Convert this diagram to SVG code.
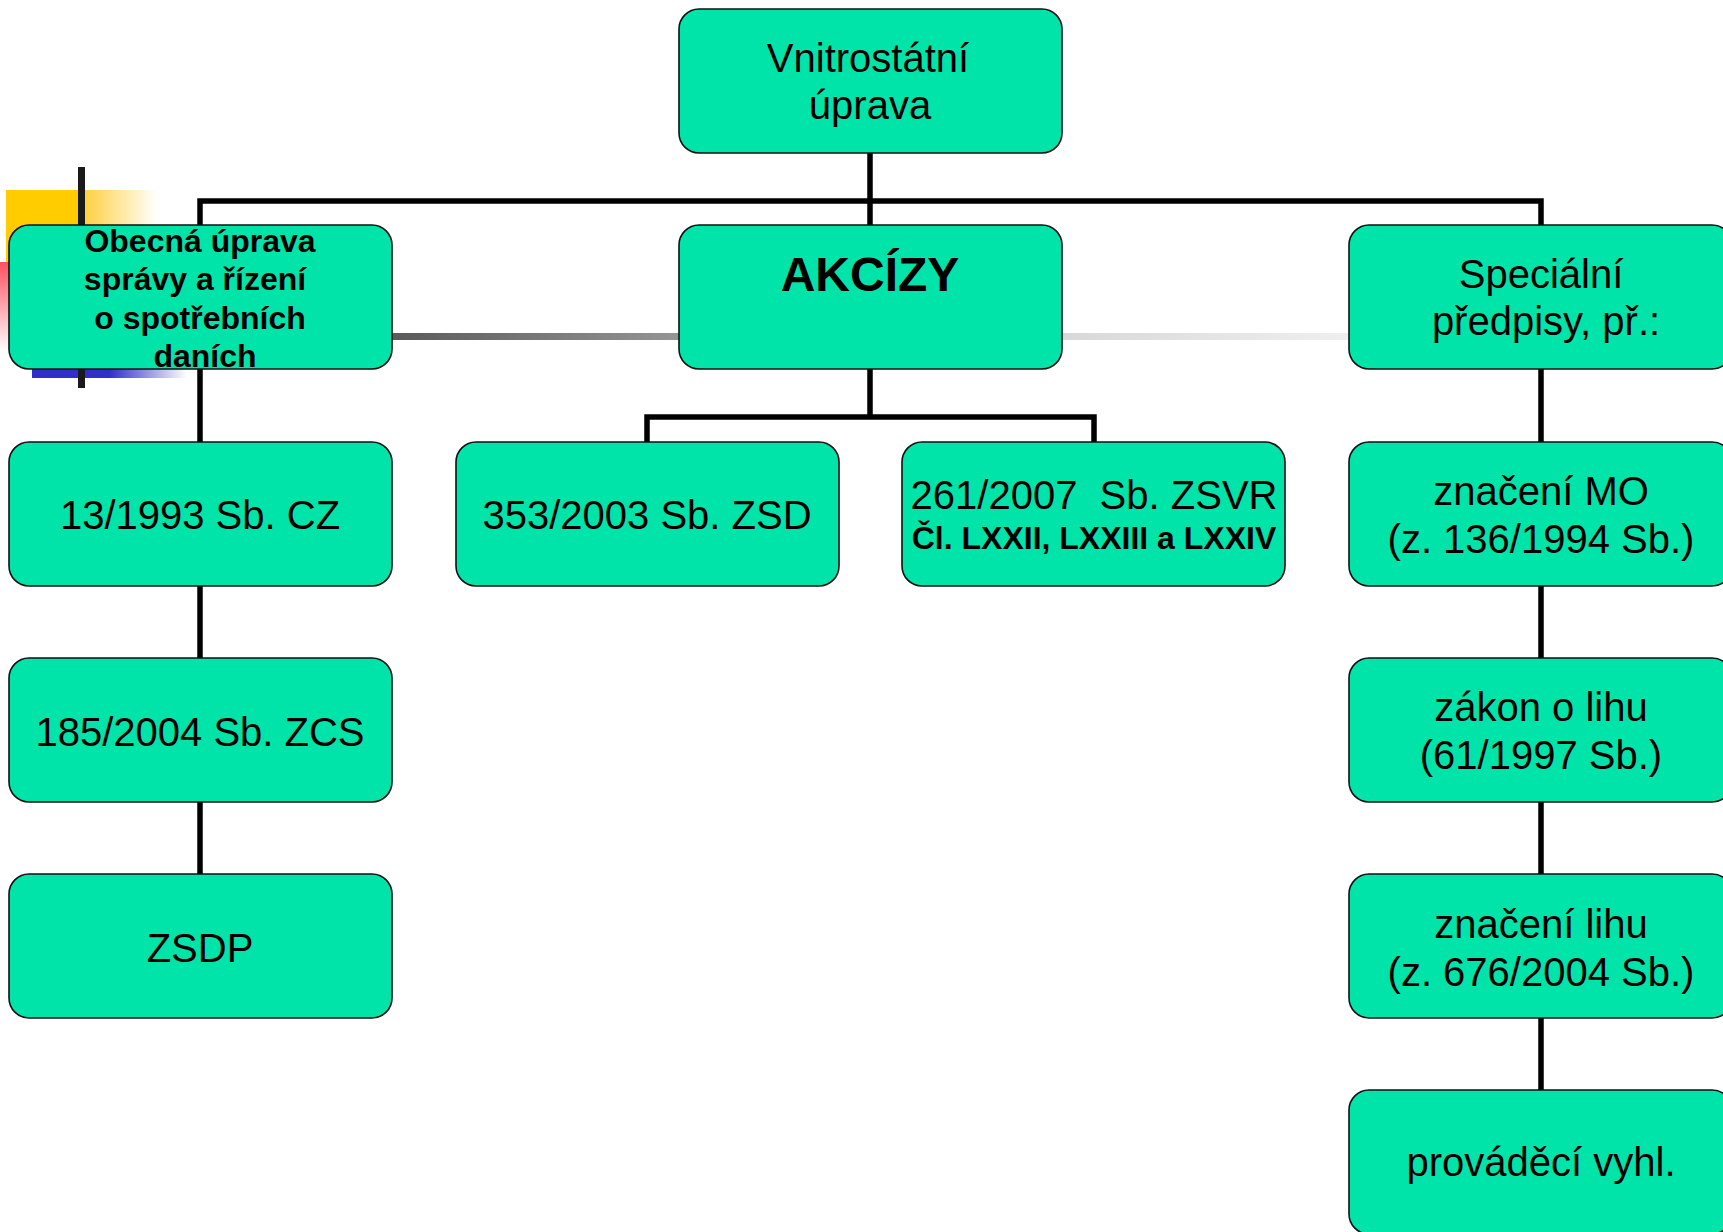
<svg xmlns="http://www.w3.org/2000/svg" width="1723" height="1232" viewBox="0 0 1723 1232">
<style>
.box{fill:#00E4A9;stroke:#111;stroke-width:1.6}
.t{font-family:"Liberation Sans",Arial,sans-serif;font-size:40px;fill:#000;text-anchor:middle}
.b{font-family:"Liberation Sans",Arial,sans-serif;font-weight:bold;font-size:32px;fill:#000;text-anchor:middle}
.c{fill:none;stroke:#000;stroke-width:5.5;stroke-linejoin:miter}
</style>
<defs>
<linearGradient id="gy" x1="6" y1="0" x2="157" y2="0" gradientUnits="userSpaceOnUse">
<stop offset="0" stop-color="#FFCC00"/><stop offset="0.5" stop-color="#FFCC00"/><stop offset="0.52" stop-color="#FFD040"/><stop offset="1" stop-color="#FFFFFF"/>
</linearGradient>
<linearGradient id="gr" x1="0" y1="262" x2="0" y2="352" gradientUnits="userSpaceOnUse">
<stop offset="0" stop-color="#FF5060"/><stop offset="1" stop-color="#FFFFFF"/>
</linearGradient>
<linearGradient id="gb" x1="32" y1="0" x2="187" y2="0" gradientUnits="userSpaceOnUse">
<stop offset="0" stop-color="#3030C8"/><stop offset="0.5" stop-color="#3030C8"/><stop offset="1" stop-color="#FFFFFF"/>
</linearGradient>
<linearGradient id="gg" x1="392" y1="0" x2="1349" y2="0" gradientUnits="userSpaceOnUse">
<stop offset="0" stop-color="#5A5A5A"/><stop offset="0.299" stop-color="#959595"/><stop offset="0.7" stop-color="#D8D8D8"/><stop offset="1" stop-color="#EFEFEF"/>
</linearGradient>
</defs>
<rect width="1723" height="1232" fill="#FFFFFF"/>
<g id="decoration">
<rect x="6" y="190" width="151" height="72" fill="url(#gy)"/>
<rect x="0" y="262" width="80" height="90" fill="url(#gr)"/>
<rect x="32" y="369" width="155" height="9" fill="url(#gb)"/>
<rect x="78" y="167" width="7" height="221" fill="#1A1A1A"/>
<rect x="392" y="333" width="957" height="7" fill="url(#gg)"/>
</g>
<g id="connectors">
<path class="c" d="M870,153 V225"/>
<path class="c" d="M200,225 V201 H1541 V225"/>
<path class="c" d="M200,369 V442 M200,585 V658 M200,802 V874"/>
<path class="c" d="M870,369 V417 M647,442 V417 H1094 V442"/>
<path class="c" d="M1541,369 V442 M1541,585 V658 M1541,802 V874 M1541,1017 V1090"/>
</g>
<g id="n-vnitrostatni">
<rect class="box" x="679" y="9" width="383" height="144" rx="20"/>
<text class="t" x="868" y="72">Vnitrostátní</text>
<text class="t" x="870" y="119">úprava</text>
</g>
<g id="n-obecna">
<rect class="box" x="9" y="225" width="383" height="144" rx="20"/>
<text class="b" x="200" y="252">Obecná úprava</text>
<text class="b" x="195" y="290">správy a řízení</text>
<text class="b" x="200" y="329">o spotřebních</text>
<text class="b" x="205" y="367">daních</text>
</g>
<g id="n-akcizy">
<rect class="box" x="679" y="225" width="383" height="144" rx="20"/>
<text class="t" x="870" y="291" style="font-weight:bold;font-size:48px">AKCÍZY</text>
</g>
<g id="n-specialni">
<rect class="box" x="1349" y="225" width="383" height="144" rx="20"/>
<text class="t" x="1541" y="288">Speciální</text>
<text class="t" x="1546" y="335">předpisy, př.:</text>
</g>
<g id="n-cz">
<rect class="box" x="9" y="442" width="383" height="144" rx="20"/>
<text class="t" x="200" y="529">13/1993 Sb. CZ</text>
</g>
<g id="n-zsd">
<rect class="box" x="456" y="442" width="383" height="144" rx="20"/>
<text class="t" x="647" y="529">353/2003 Sb. ZSD</text>
</g>
<g id="n-zsvr">
<rect class="box" x="902" y="442" width="383" height="144" rx="20"/>
<text class="t" x="1094" y="509" xml:space="preserve">261/2007  Sb. ZSVR</text>
<text class="b" x="1094" y="549">Čl. LXXII, LXXIII a LXXIV</text>
</g>
<g id="n-mo">
<rect class="box" x="1349" y="442" width="383" height="144" rx="20"/>
<text class="t" x="1541" y="505">značení MO</text>
<text class="t" x="1541" y="553">(z. 136/1994 Sb.)</text>
</g>
<g id="n-zcs">
<rect class="box" x="9" y="658" width="383" height="144" rx="20"/>
<text class="t" x="200" y="746">185/2004 Sb. ZCS</text>
</g>
<g id="n-lih">
<rect class="box" x="1349" y="658" width="383" height="144" rx="20"/>
<text class="t" x="1541" y="721">zákon o lihu</text>
<text class="t" x="1541" y="769">(61/1997 Sb.)</text>
</g>
<g id="n-zsdp">
<rect class="box" x="9" y="874" width="383" height="144" rx="20"/>
<text class="t" x="200" y="962">ZSDP</text>
</g>
<g id="n-znaceni-lihu">
<rect class="box" x="1349" y="874" width="383" height="144" rx="20"/>
<text class="t" x="1541" y="938">značení lihu</text>
<text class="t" x="1541" y="986">(z. 676/2004 Sb.)</text>
</g>
<g id="n-provadeci">
<rect class="box" x="1349" y="1090" width="383" height="144" rx="20"/>
<text class="t" x="1541" y="1176">prováděcí vyhl.</text>
</g>
</svg>
